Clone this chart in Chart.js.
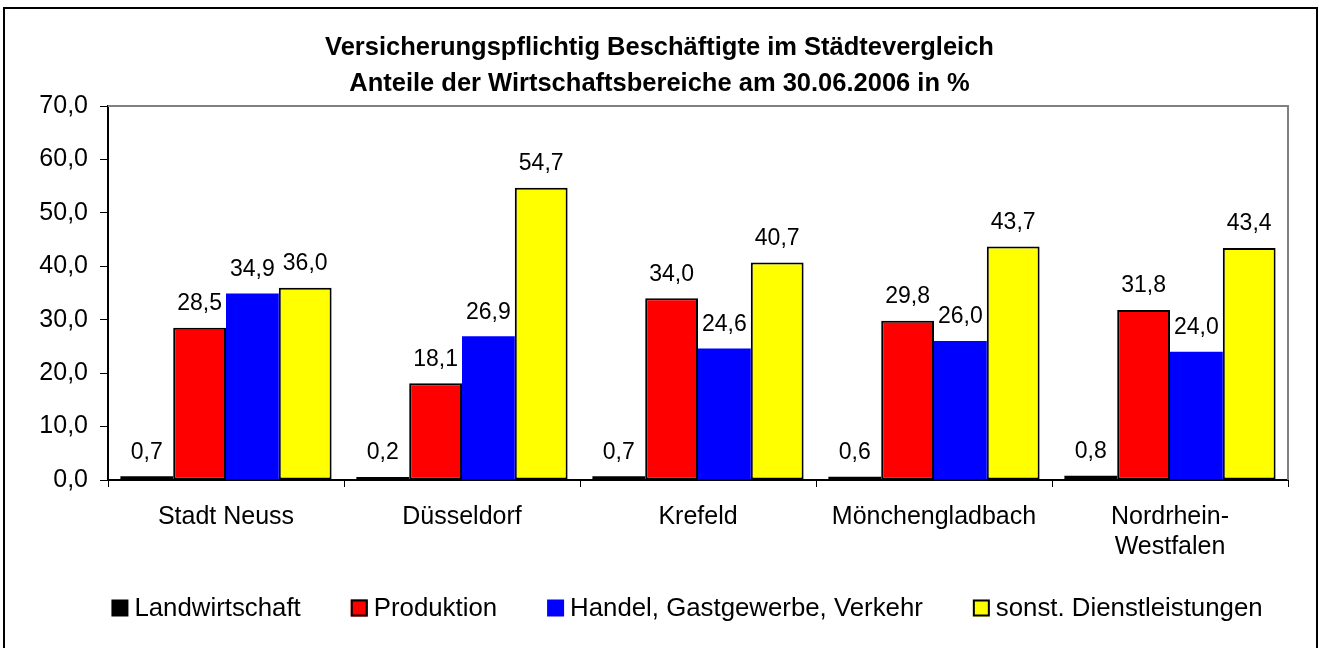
<!DOCTYPE html>
<html lang="de">
<head>
<meta charset="utf-8">
<title>Versicherungspflichtig Beschäftigte im Städtevergleich</title>
<script src="https://cdn.jsdelivr.net/npm/chart.js@4.4.1/dist/chart.umd.min.js"></script>
<style>
  html, body { margin: 0; padding: 0; background: #fff; }
  #wrap { position: relative; width: 1319px; height: 648px; }
</style>
</head>
<body>
<div id="wrap"><canvas id="chart"></canvas></div>
<script>
/* ── Daten ── */
const categories = ['Stadt Neuss', 'Düsseldorf', 'Krefeld', 'Mönchengladbach', ['Nordrhein-', 'Westfalen']];
const landwirtschaft = [0.7, 0.2, 0.7, 0.6, 0.8];
const produktion = [28.5, 18.1, 34.0, 29.8, 31.8];
const handel = [34.9, 26.9, 24.6, 26.0, 24.0];
const dienstleistungen = [36.0, 54.7, 40.7, 43.7, 43.4];
const yMin = 0, yMax = 70, yStep = 10;
const titleLines = [
  'Versicherungspflichtig Beschäftigte im Städtevergleich',
  'Anteile der Wirtschaftsbereiche am 30.06.2006 in %'
];

const FONT = '"Liberation Sans", Arial, sans-serif';
Chart.defaults.font.family = FONT;
Chart.defaults.color = '#000';

const fmt = v => Number(v).toFixed(1).replace('.', ',');

// Rahmen um das ganze Diagramm + graue Kante oben/rechts am Plotbereich
const framePlugin = {
  id: 'frame',
  afterDraw(chart) {
    const { ctx, chartArea: a } = chart;
    ctx.save();
    ctx.strokeStyle = '#808080';
    ctx.lineWidth = 2;
    ctx.beginPath();
    ctx.moveTo(a.left, a.top);
    ctx.lineTo(a.right, a.top);
    ctx.lineTo(a.right, a.bottom);
    ctx.stroke();
    ctx.strokeStyle = '#000';
    ctx.lineWidth = 2;
    ctx.strokeRect(4, 8, 1313, 700);
    ctx.restore();
  }
};

// Werte über den Balken
const valueLabels = {
  id: 'valueLabels',
  afterDatasetsDraw(chart) {
    const { ctx } = chart;
    ctx.save();
    ctx.font = '23px ' + FONT;
    ctx.fillStyle = '#000';
    ctx.textAlign = 'center';
    ctx.textBaseline = 'middle';
    chart.data.datasets.forEach((ds, i) => {
      chart.getDatasetMeta(i).data.forEach((bar, j) => {
        ctx.fillText(fmt(ds.data[j]), bar.x, bar.y - 24);
      });
    });
    ctx.restore();
  }
};

// Legende unten (Excel-Stil: kleines Kästchen, enger Textabstand)
const excelLegend = {
  id: 'excelLegend',
  afterDraw(chart) {
    const { ctx } = chart;
    const box = 17, gap = 6, itemGap = 50, cx = 687, cy = 608;
    ctx.save();
    ctx.font = '25.8px ' + FONT;
    ctx.textBaseline = 'middle';
    ctx.textAlign = 'left';
    const items = chart.data.datasets.map(ds => ({ ds, w: ctx.measureText(ds.label).width }));
    const total = items.reduce((s, it) => s + box + gap + it.w, 0) + itemGap * (items.length - 1);
    let x = cx - total / 2;
    items.forEach(({ ds, w }) => {
      ctx.fillStyle = ds.backgroundColor;
      ctx.fillRect(x, cy - box / 2, box, box);
      if (ds.borderWidth) {
        ctx.strokeStyle = ds.borderColor;
        ctx.lineWidth = 2;
        ctx.strokeRect(x + 1, cy - box / 2 + 1, box - 2, box - 2);
      }
      ctx.fillStyle = '#000';
      ctx.fillText(ds.label, x + box + gap, cy + 1);
      x += box + gap + w + itemGap;
    });
    ctx.restore();
  }
};

function series(label, data, color, border) {
  return {
    label,
    data,
    backgroundColor: color,
    borderColor: border,
    borderWidth: border === color ? 0 : 2,
    borderSkipped: false,
    categoryPercentage: 0.895,
    barPercentage: 1
  };
}

const black = series('Landwirtschaft', landwirtschaft, '#000000', '#000000');
black.minBarLength = 3;

new Chart(document.getElementById('chart'), {
  type: 'bar',
  data: {
    labels: categories,
    datasets: [
      black,
      series('Produktion', produktion, '#ff0000', '#000000'),
      series('Handel, Gastgewerbe, Verkehr', handel, '#0000ff', '#0000ff'),
      series('sonst. Dienstleistungen', dienstleistungen, '#ffff00', '#000000')
    ]
  },
  options: {
    responsive: true,
    maintainAspectRatio: false,
    animation: false,
    layout: { padding: { top: 8, left: 8, right: 8, bottom: 86 } },
    plugins: {
      title: {
        display: true,
        text: titleLines,
        color: '#000',
        font: { size: 25.5, weight: 'bold', lineHeight: 1.4 },
        padding: { top: 22.5, bottom: 4.1 }
      },
      legend: { display: false },
      tooltip: { enabled: false }
    },
    scales: {
      x: {
        grid: { display: true, drawOnChartArea: false, offset: true, color: '#000', tickLength: 7, lineWidth: 1 },
        border: { color: '#000', width: 2 },
        ticks: { color: '#000', font: { size: 25 }, padding: 15, maxRotation: 0, autoSkip: false },
        afterFit: s => { s.height = 82; }
      },
      y: {
        min: yMin,
        max: yMax,
        grid: { drawOnChartArea: false, color: '#000', tickLength: 8, lineWidth: 1 },
        border: { color: '#000', width: 2 },
        ticks: { stepSize: yStep, color: '#000', font: { size: 25 }, padding: 12, callback: v => fmt(v) },
        afterFit: s => { s.width = 100; }
      },
      yRight: {
        position: 'right',
        display: true,
        grid: { display: false },
        border: { display: false },
        ticks: { display: false },
        afterFit: s => { s.width = 23; }
      }
    }
  },
  plugins: [valueLabels, framePlugin, excelLegend]
});
</script>
</body>
</html>
